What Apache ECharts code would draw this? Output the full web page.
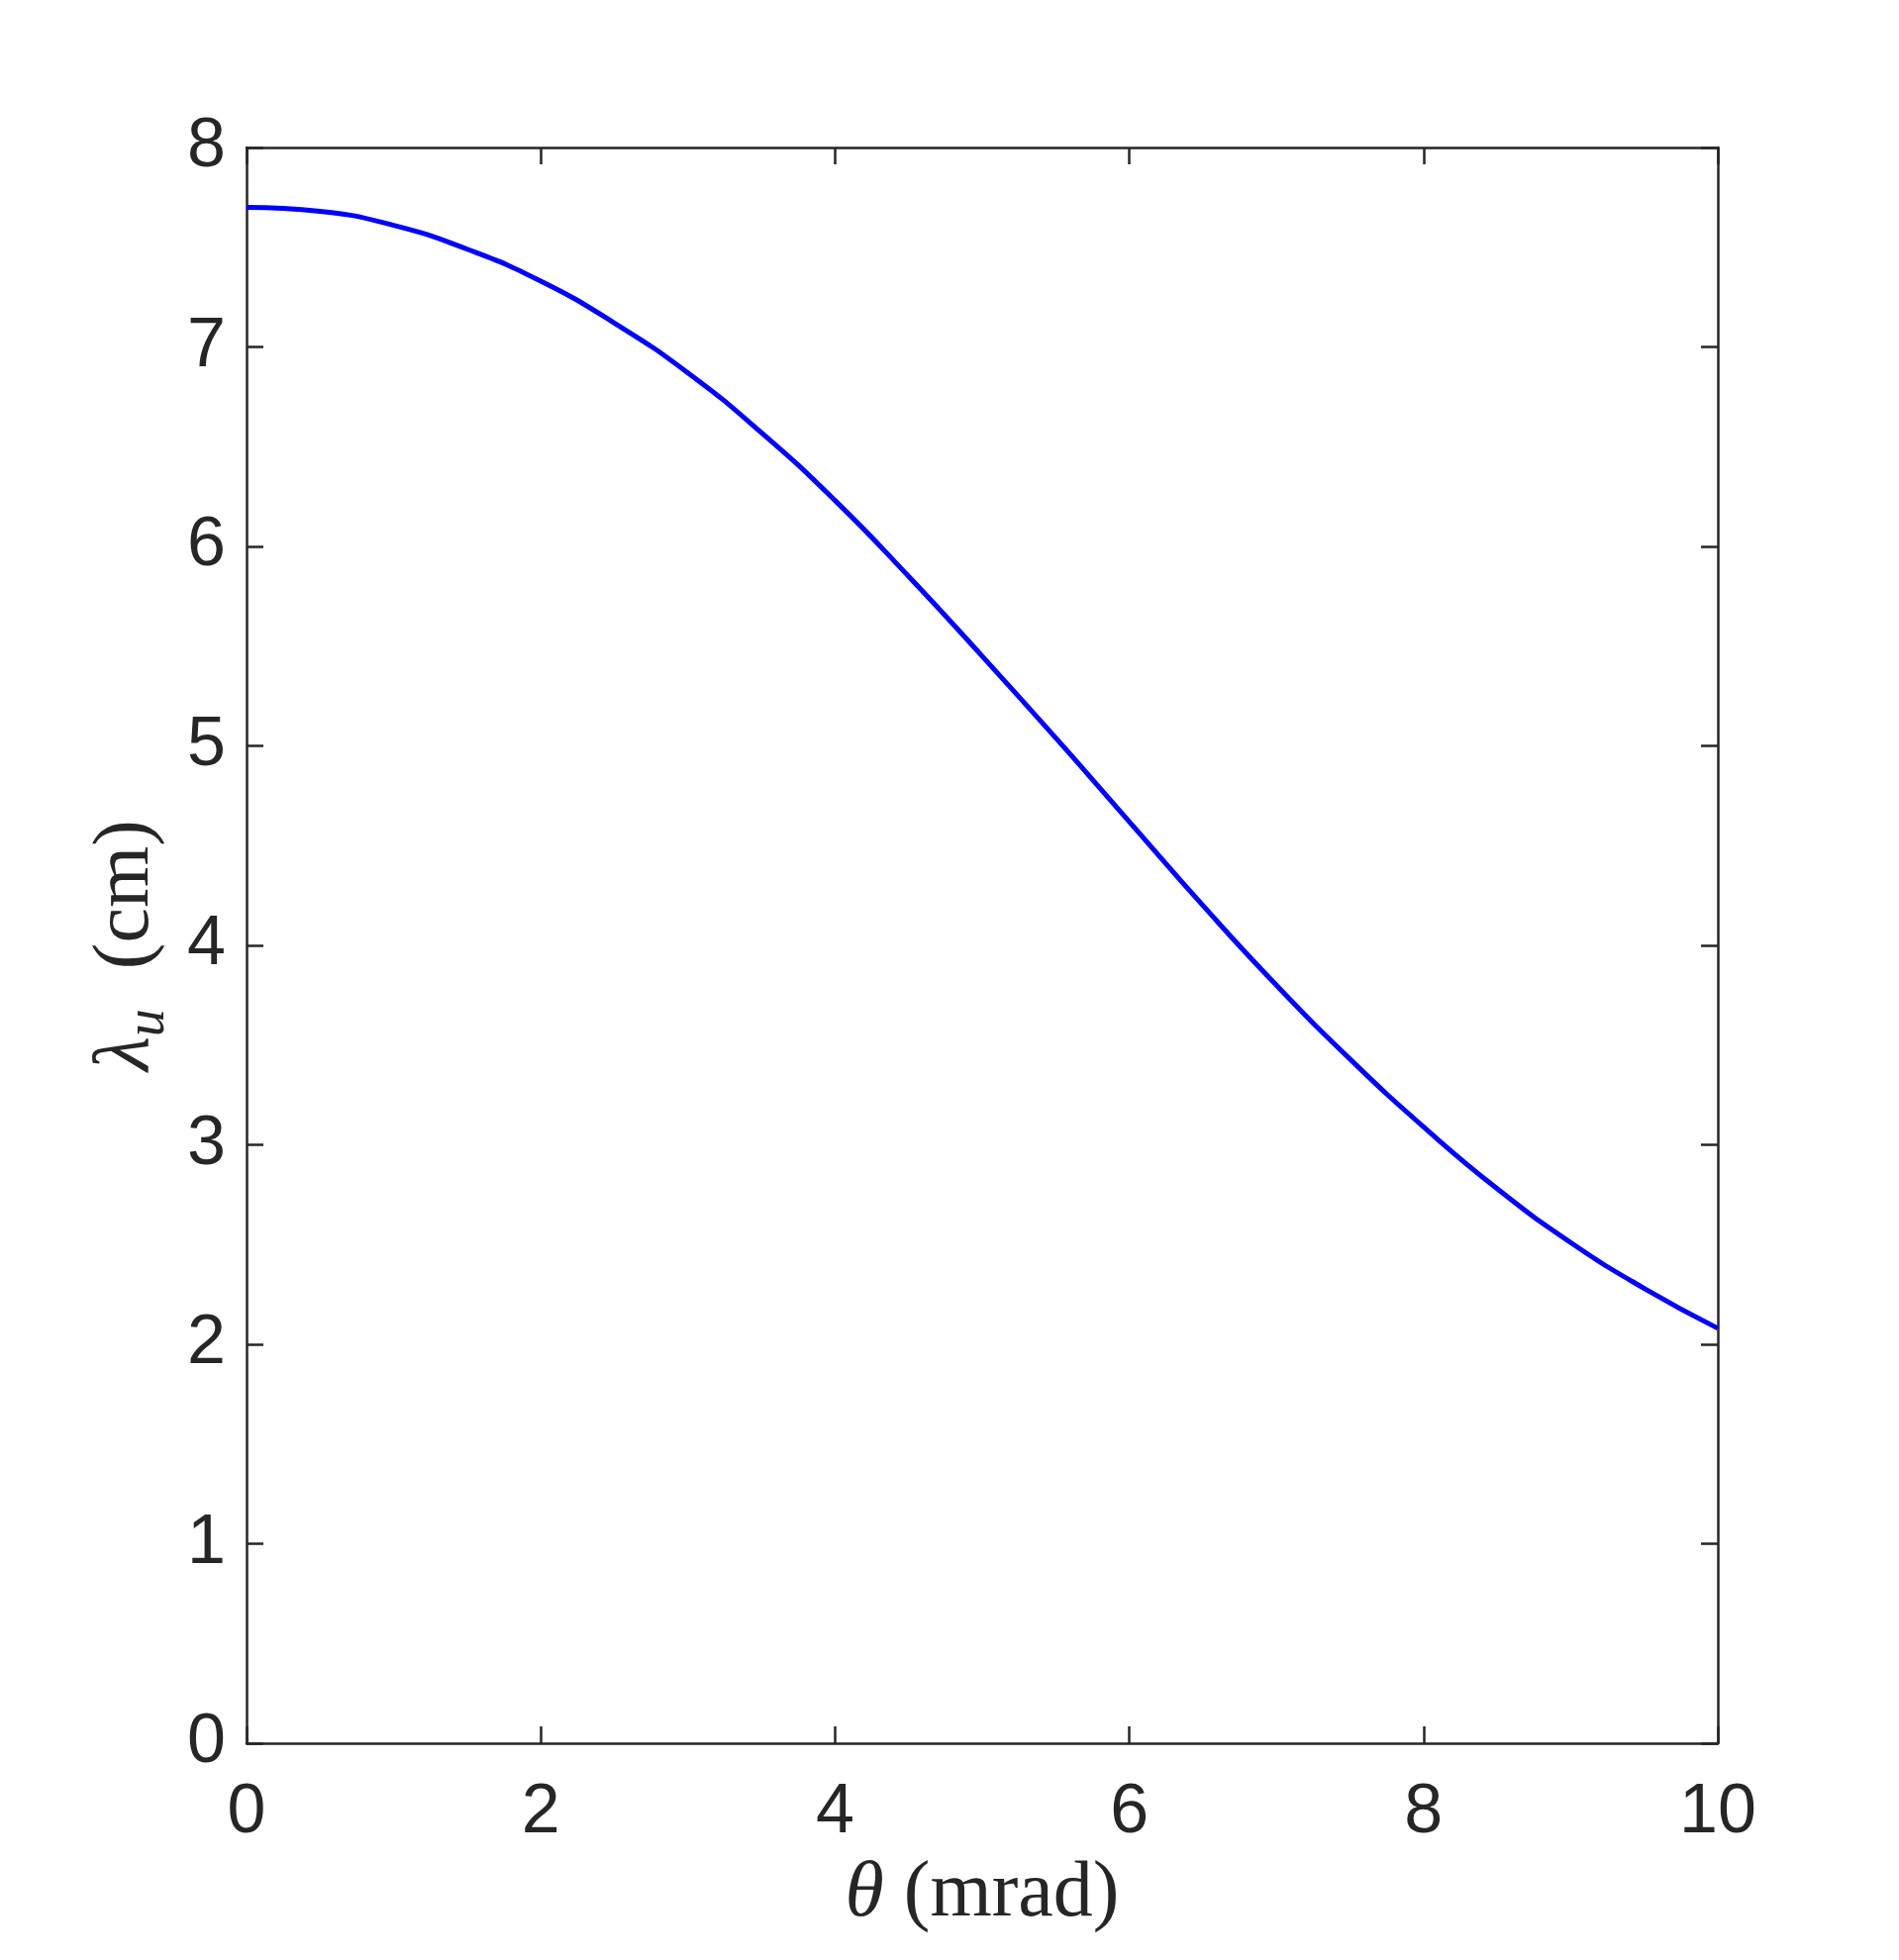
<!DOCTYPE html>
<html>
<head>
<meta charset="utf-8">
<script src="https://cdn.jsdelivr.net/npm/echarts@6/dist/echarts.min.js"></script>
<style>
  html, body { margin: 0; padding: 0; background: #ffffff; }
  #chart { width: 1918px; height: 1980px; }
</style>
</head>
<body>
<div id="chart"></div>
<script>
// theta (mrad)
const thetaValues = [0, 0.5, 1, 1.5, 2, 2.5, 3, 3.5, 4, 4.5, 5, 5.5, 6, 6.5, 7, 7.5, 8, 8.5, 9, 9.5, 10];
// lambda_u (cm)
const lambdaValues = [7.70, 7.68, 7.61, 7.49, 7.33, 7.12, 6.87, 6.57, 6.23, 5.85, 5.45, 5.04, 4.62, 4.20, 3.80, 3.43, 3.09, 2.78, 2.51, 2.28, 2.08];
const xTicks = [0, 2, 4, 6, 8, 10];
const yTicks = [0, 1, 2, 3, 4, 5, 6, 7, 8];

const axisColor = '#262626';
const tickFont = 'Liberation Sans, Arial, Helvetica, sans-serif';
const serif = 'Liberation Serif, DejaVu Serif, Times New Roman, serif';

const chart = echarts.init(document.getElementById('chart'), null, { renderer: 'canvas' });

const commonLine = { show: true, onZero: false, lineStyle: { color: axisColor, width: 2.5 } };
const commonTick = { show: true, inside: true, length: 17, lineStyle: { color: axisColor, width: 2.5 } };

const option = {
  backgroundColor: '#ffffff',
  animation: false,
  grid: { left: 249, right: 183, top: 149, bottom: 219, containLabel: false },
  xAxis: [
    {
      type: 'value', position: 'bottom',
      min: xTicks[0], max: xTicks[xTicks.length - 1], interval: 2,
      axisLine: commonLine, axisTick: commonTick, splitLine: { show: false },
      axisLabel: { show: true, color: axisColor, fontFamily: tickFont, fontSize: 70, margin: 36 },
      name: '{th|θ}{sp| }{tx|(mrad)}',
      nameLocation: 'middle', nameGap: 108,
      nameTextStyle: {
        rich: {
          th: { fontFamily: serif, fontStyle: 'italic', fontSize: 80, color: axisColor, lineHeight: 90 },
          sp: { fontFamily: serif, fontSize: 80, lineHeight: 90 },
          tx: { fontFamily: serif, fontSize: 80, color: axisColor, lineHeight: 90 }
        }
      }
    },
    {
      type: 'value', position: 'top',
      min: xTicks[0], max: xTicks[xTicks.length - 1], interval: 2,
      axisLine: commonLine, axisTick: commonTick, splitLine: { show: false },
      axisLabel: { show: false }
    }
  ],
  yAxis: [
    {
      type: 'value', position: 'left',
      min: yTicks[0], max: yTicks[yTicks.length - 1], interval: 1,
      axisLine: commonLine, axisTick: commonTick, splitLine: { show: false },
      axisLabel: { show: true, color: axisColor, fontFamily: tickFont, fontSize: 70, margin: 21 },
      name: '{lam|λ}{sub|u}{sp|  }{tx|(cm)}',
      nameLocation: 'middle', nameGap: 50, nameRotate: 90,
      nameTextStyle: {
        rich: {
          lam: { fontFamily: serif, fontStyle: 'italic', fontSize: 80, color: axisColor, lineHeight: 100, verticalAlign: 'middle' },
          sub: { fontFamily: serif, fontStyle: 'italic', fontSize: 56, color: axisColor, lineHeight: 56, verticalAlign: 'bottom' },
          sp: { fontFamily: serif, fontSize: 80, lineHeight: 100, verticalAlign: 'middle' },
          tx: { fontFamily: serif, fontSize: 80, color: axisColor, lineHeight: 100, verticalAlign: 'middle' }
        }
      }
    },
    {
      type: 'value', position: 'right',
      min: yTicks[0], max: yTicks[yTicks.length - 1], interval: 1,
      axisLine: commonLine, axisTick: commonTick, splitLine: { show: false },
      axisLabel: { show: false }
    }
  ],
  series: [
    {
      type: 'line',
      xAxisIndex: 0, yAxisIndex: 0,
      data: thetaValues.map((t, i) => [t, lambdaValues[i]]),
      smooth: 0.5,
      showSymbol: false,
      symbol: 'none',
      lineStyle: { color: '#0000ff', width: 5 },
      z: 1
    }
  ]
};

chart.setOption(option);
</script>
</body>
</html>
